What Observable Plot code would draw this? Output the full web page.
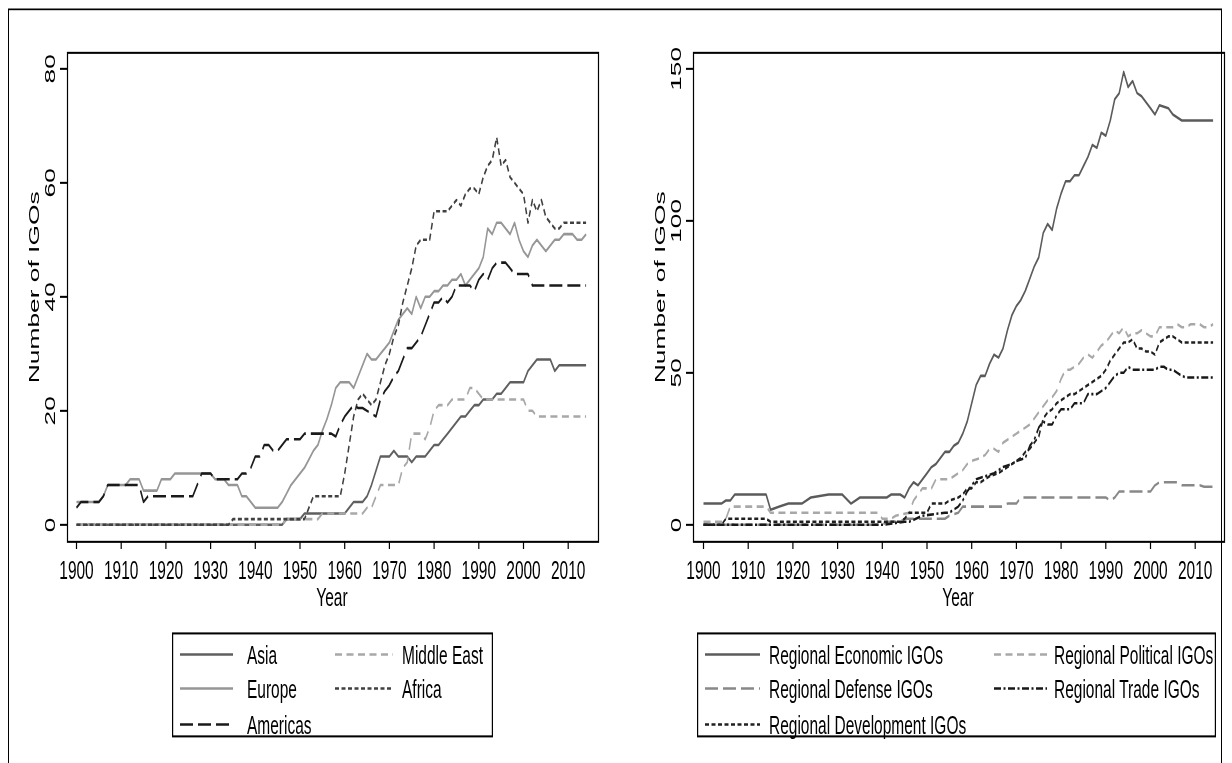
<!DOCTYPE html>
<html><head><meta charset="utf-8">
<script src="https://cdn.jsdelivr.net/npm/d3@7"></script>
<script src="https://cdn.jsdelivr.net/npm/@observablehq/plot@0.6"></script>
<style>
html,body{margin:0;padding:0;background:#fff;}
#wrap{position:relative;width:1232px;height:763px;overflow:hidden;}
#stage{position:absolute;left:0;top:0;width:1232px;transform-origin:0 0;font-family:"Liberation Sans",Arial,sans-serif;color:#000;}
.abs{position:absolute;}
.lbl{position:absolute;font-size:15.5px;white-space:nowrap;line-height:1;}
</style></head><body><div id="wrap"><div id="stage"></div></div>
<script>
// ---------------- data ----------------
const years = [1900,1910,1920,1930,1940,1950,1960,1970,1980,1990,2000,2010];
const regionTicks = [0,20,40,60,80];
const typeTicks = [0,50,100,150];

const asia = [[1900,0],[1946,0],[1947,1],[1950,1],[1951,2],[1960,2],[1962,4],[1964,4],[1965,5],[1966,7],[1967,9.5],[1968,12],[1970,12],[1971,13],[1972,12],[1974,12],[1975,11],[1976,12],[1978,12],[1979,13],[1980,14],[1981,14],[1982,15],[1983,16],[1984,17],[1985,18],[1986,19],[1987,19],[1988,20],[1989,21],[1990,21],[1991,22],[1993,22],[1994,23],[1995,23],[1996,24],[1997,25],[2000,25],[2001,27],[2002,28],[2003,29],[2006,29],[2007,27],[2008,28],[2014,28]];
const middleEast = [[1900,0],[1946,0],[1947,1],[1954,1],[1955,2],[1964,2],[1965,3],[1966,3],[1967,5],[1968,7],[1972,7],[1973,10],[1974,11],[1975,16],[1977,16],[1978,15],[1979,17],[1980,20],[1981,21],[1983,21],[1984,22],[1987,22],[1988,24],[1989,24],[1990,23],[1991,22],[2000,22],[2001,20],[2002,20],[2003,19],[2014,19]];
const europe = [[1900,4],[1905,4],[1906,5],[1907,7],[1911,7],[1912,8],[1914,8],[1915,6],[1918,6],[1919,8],[1921,8],[1922,9],[1930,9],[1931,8],[1933,8],[1934,7],[1936,7],[1937,5],[1938,5],[1939,4],[1940,3],[1945,3],[1946,4],[1947,5.5],[1948,7],[1949,8],[1950,9],[1951,10],[1952,11.5],[1953,13],[1954,14],[1955,16.5],[1956,18.5],[1957,21],[1958,24],[1959,25],[1961,25],[1962,24],[1963,26],[1964,28],[1965,30],[1966,29],[1967,29],[1968,30],[1969,31],[1970,32],[1971,34],[1972,36],[1973,37],[1974,38],[1975,37],[1976,40],[1977,38],[1978,40],[1979,40],[1980,41],[1981,41],[1982,42],[1983,42],[1984,43],[1985,43],[1986,44],[1987,42],[1988,43],[1989,44],[1990,45],[1991,47],[1992,52],[1993,51],[1994,53],[1995,53],[1996,52],[1997,51],[1998,53],[1999,50],[2000,48],[2001,47],[2002,49],[2003,50],[2004,49],[2005,48],[2006,49],[2007,50],[2008,50],[2009,51],[2011,51],[2012,50],[2013,50],[2014,51]];
const africa = [[1900,0],[1934,0],[1935,1],[1951,1],[1952,3],[1953,5],[1959,5],[1960,9],[1961,14],[1962,19],[1963,22],[1964,23],[1965,22],[1966,21],[1967,22],[1968,25],[1969,28],[1970,30],[1971,33],[1972,35],[1973,39],[1974,42],[1975,45],[1976,49],[1977,50],[1979,50],[1980,55],[1983,55],[1984,56],[1985,57],[1986,56],[1987,58],[1988,59],[1989,59],[1990,58],[1991,61],[1992,63],[1993,64],[1994,68],[1995,63],[1996,64],[1997,61],[1998,60],[1999,59],[2000,58],[2001,53],[2002,57],[2003,55],[2004,57],[2005,54],[2006,53],[2007,52],[2008,52],[2009,53],[2014,53]];
const americas = [[1900,3],[1901,4],[1905,4],[1906,5],[1907,7],[1914,7],[1915,4],[1916,5],[1926,5],[1928,9],[1930,9],[1931,8],[1936,8],[1937,9],[1938,9],[1939,10],[1940,12],[1941,12],[1942,14],[1943,14],[1944,13],[1945,13],[1946,14],[1947,15],[1950,15],[1951,16],[1957,16],[1958,15.5],[1959,17.5],[1960,19],[1961,20],[1962,21],[1963,20.5],[1964,20.5],[1965,20],[1966,19.5],[1967,19],[1968,22],[1969,23.5],[1970,24.5],[1971,26],[1972,27],[1973,29],[1974,31],[1975,31],[1976,32],[1977,33],[1978,35],[1979,37],[1980,39],[1981,39],[1982,40],[1983,39],[1984,40],[1985,42],[1986,42],[1987,42],[1988,42],[1989,41],[1990,43],[1991,44],[1992,43],[1993,45],[1994,46],[1995,46],[1996,46],[1997,45],[1998,44],[2001,44],[2002,42],[2014,42]];

const economic = [[1900,7],[1904,7],[1905,8],[1906,8],[1907,10],[1914,10],[1915,5],[1917,6],[1919,7],[1922,7],[1924,9],[1928,10],[1931,10],[1933,7],[1935,9],[1941,9],[1942,10],[1944,10],[1945,9],[1946,12],[1947,14],[1948,13],[1949,15],[1950,17],[1951,19],[1952,20],[1953,22],[1954,24],[1955,24],[1956,26],[1957,27],[1958,30],[1959,34],[1960,40],[1961,46],[1962,49],[1963,49],[1964,53],[1965,56],[1966,55],[1967,58],[1968,64],[1969,69],[1970,72],[1971,74],[1972,77],[1973,81],[1974,85],[1975,88],[1976,96],[1977,99],[1978,97],[1979,104],[1980,109],[1981,113],[1982,113],[1983,115],[1984,115],[1985,118],[1986,121],[1987,125],[1988,124],[1989,129],[1990,128],[1991,133],[1992,140],[1993,142],[1994,149],[1995,144],[1996,146],[1997,142],[1998,141],[1999,139],[2000,137],[2001,135],[2002,138],[2004,137],[2005,135],[2006,134],[2007,133],[2014,133]];
const political = [[1900,1],[1904,1],[1905,2],[1906,6],[1914,6],[1915,4],[1939,4],[1940,2],[1942,2],[1943,3],[1946,4],[1947,8],[1948,10],[1949,12],[1951,12],[1952,15],[1955,15],[1956,16],[1957,17],[1958,18],[1959,20],[1960,21],[1962,22],[1963,23],[1964,25],[1965,25],[1966,24],[1967,27],[1968,28],[1969,29],[1970,30],[1971,31],[1972,32],[1973,33],[1974,35],[1975,37],[1976,39],[1977,41],[1978,42],[1979,44],[1980,48],[1981,51],[1982,51],[1983,52],[1984,53],[1985,55],[1986,56],[1987,55],[1988,57],[1989,59],[1990,60],[1991,62],[1992,64],[1993,63],[1994,65],[1995,62],[1996,63],[1997,63],[1998,64],[1999,63],[2000,62],[2001,62],[2002,65],[2005,65],[2006,66],[2007,65],[2008,65],[2009,66],[2011,66],[2012,65],[2013,65],[2014,66]];
const defense = [[1900,0],[1940,0],[1941,1],[1944,1],[1945,2],[1954,2],[1955,3],[1957,4],[1958,6],[1967,6],[1968,7],[1970,7],[1971,9],[1990,9],[1991,8],[1992,9],[1993,11],[2000,11],[2001,13],[2002,14],[2006,14],[2007,13],[2011,13],[2012,12.5],[2014,12.5]];
const trade = [[1900,0],[1940,0],[1945,1],[1946,1],[1949,3],[1954,4],[1955,4],[1956,5],[1957,6],[1958,8],[1959,11],[1960,13],[1961,15],[1963,16],[1965,17],[1967,19],[1969,20],[1970,21],[1972,22],[1973,26],[1974,28],[1975,32],[1976,34],[1977,33],[1978,33],[1979,36],[1980,38],[1982,38],[1983,40],[1985,40],[1986,43],[1988,43],[1989,44],[1990,45],[1991,47],[1992,49],[1993,50],[1994,50],[1995,52],[1996,51],[2001,51],[2002,52],[2003,52],[2004,51],[2005,51],[2006,50],[2007,49],[2008,48.5],[2014,48.5]];
const development = [[1900,0],[1904,0],[1905,2],[1914,2],[1915,1],[1944,1],[1945,2],[1946,4],[1950,4],[1951,7],[1954,7],[1955,8],[1957,9],[1958,10],[1959,12],[1960,12],[1961,14],[1962,14],[1963,15],[1964,16],[1966,17],[1967,18],[1968,19],[1969,20],[1970,21],[1971,22],[1972,24],[1973,25],[1974,27],[1975,29],[1976,35],[1977,37],[1978,38],[1979,40],[1980,41],[1981,42],[1982,43],[1983,43],[1984,44],[1985,45],[1986,46],[1987,47],[1988,48],[1989,49],[1990,51],[1991,54],[1992,56],[1993,58],[1994,60],[1995,60],[1996,61],[1997,58],[1998,58],[1999,57],[2000,57],[2001,56],[2002,60],[2003,61],[2004,62],[2005,62],[2006,61],[2007,60],[2014,60]];

const regionNames = ["Asia","Middle East","Europe","Africa","Americas"];
const typeNames = ["Regional Economic IGOs","Regional Political IGOs","Regional Defense IGOs","Regional Trade IGOs","Regional Development IGOs"];

// ---------------- styling ----------------
const K = 1.7;               // vertical stretch of the whole figure
const Y = v => v / K;        // reference-pixel y -> design y
const FONT = '"Liberation Sans", Arial, sans-serif';
const LW = 1.5;

const regionStyles = {
  "Asia":        {stroke:"#5f5f5f", dash:null, data: asia},
  "Middle East": {stroke:"#a8a8a8", dash:"7,4.5", data: middleEast},
  "Europe":      {stroke:"#969696", dash:null, data: europe},
  "Africa":      {stroke:"#404040", dash:"4,2.5", data: africa},
  "Americas":    {stroke:"#1a1a1a", dash:"13,5", data: americas}
};
const typeStyles = {
  "Regional Economic IGOs":    {stroke:"#5b5b5b", dash:null, data: economic},
  "Regional Political IGOs":   {stroke:"#a8a8a8", dash:"7,4.5", data: political},
  "Regional Defense IGOs":     {stroke:"#888888", dash:"13,5", data: defense},
  "Regional Trade IGOs":       {stroke:"#181818", dash:"7,2.5,2,2.5", data: trade},
  "Regional Development IGOs": {stroke:"#202020", dash:"4,2.5", data: development}
};

const stage = document.getElementById("stage");
stage.style.height = (763 / K) + "px";
stage.style.transform = `scaleY(${K})`;

function rowsOf(names, styles) {
  return names.flatMap(name => styles[name].data.map(([year, value]) => ({series: name, year, value})));
}

function panel({names, styles, yDomain, yTicks, xDomain, pageLeft, frameLeft, frameRight}) {
  const width = 616;
  const H = Y(600);
  const rows = rowsOf(names, styles);
  const marks = [];
  for (const name of names) {
    const s = styles[name];
    marks.push(Plot.line(rows.filter(r => r.series === name), {
      x: "year", y: "value", stroke: s.stroke, strokeWidth: LW,
      strokeDasharray: s.dash || undefined, strokeLinecap: "butt", strokeLinejoin: "round"
    }));
  }
  marks.push(Plot.frame({stroke: "#000", strokeWidth: 1.2}));
  marks.push(Plot.axisX({ticks: years, tickFormat: "d", tickSize: Y(8), tickPadding: 6, label: null, stroke: "#000", strokeWidth: 1.2}));
  marks.push(Plot.axisY({ticks: yTicks, tickFormat: "d", tickSize: 7, tickPadding: 6, tickRotate: -90, textAnchor: "middle", lineAnchor: "bottom", label: null, stroke: "#000", strokeWidth: 1.2}));
  const svg = Plot.plot({
    width, height: H,
    marginTop: Y(52), marginBottom: H - Y(541),
    marginLeft: frameLeft - pageLeft, marginRight: pageLeft + width - frameRight,
    x: {domain: xDomain}, y: {domain: yDomain},
    style: {fontSize: "15.5px", fontFamily: FONT, color: "#000", background: "transparent", overflow: "visible"},
    marks
  });
  svg.style.position = "absolute";
  svg.style.left = pageLeft + "px";
  svg.style.top = "0px";
  stage.appendChild(svg);
}

// left panel: 1900 at x=76, 4.47 px/yr; 0 at y=524, 5.7 px/unit
panel({names: regionNames, styles: regionStyles, yTicks: regionTicks,
  xDomain: [1900 - 9/4.47, 1900 + 522/4.47], yDomain: [(524-541)/5.7, (524-52)/5.7],
  pageLeft: 0, frameLeft: 67, frameRight: 598});
// right panel: 1900 at x=703, 4.47 px/yr; 0 at y=524, 3.04 px/unit
panel({names: typeNames, styles: typeStyles, yTicks: typeTicks,
  xDomain: [1900 - 10/4.47, 1900 + 521/4.47], yDomain: [(524-541)/3.04, (524-52)/3.04],
  pageLeft: 616, frameLeft: 693, frameRight: 1224});

// outer border
const border = document.createElement("div");
border.className = "abs";
Object.assign(border.style, {left: "8px", top: Y(8) + "px", width: "1214px", height: Y(800) + "px", border: "1.3px solid #000", boxSizing: "border-box"});
stage.appendChild(border);

function label(text, x, y, rotate) {
  const d = document.createElement("div");
  d.className = "lbl";
  d.textContent = text;
  d.style.left = x + "px";
  d.style.top = Y(y) + "px";
  d.style.transform = rotate ? "translate(-50%,-50%) rotate(-90deg)" : "translate(-50%,-50%)";
  stage.appendChild(d);
}
label("Year", 332, 597);
label("Year", 958, 597);
label("Number of IGOs", 34, 288, true);
label("Number of IGOs", 660, 288, true);

function legend({names, styles, box, cols}) {
  const [x0, y0, x1, y1] = box;
  const svg = d3.create("svg")
    .attr("width", x1 - x0).attr("height", Y(y1 - y0))
    .style("position", "absolute").style("left", x0 + "px").style("top", Y(y0) + "px")
    .style("overflow", "visible");
  svg.append("rect").attr("x", 0.6).attr("y", 0.6).attr("width", x1 - x0 - 1.2).attr("height", Y(y1 - y0) - 1.2)
    .attr("fill", "none").attr("stroke", "#000").attr("stroke-width", 1.2);
  const rowsY = [655, 689, 725];
  names.forEach((name, i) => {
    const c = cols[i % 2], ry = Y(rowsY[Math.floor(i / 2)] - y0);
    const s = styles[name];
    svg.append("line").attr("x1", c[0] - x0).attr("x2", c[1] - x0).attr("y1", ry).attr("y2", ry)
      .attr("stroke", s.stroke).attr("stroke-width", LW).attr("stroke-dasharray", s.dash);
    svg.append("text").attr("x", c[2] - x0).attr("y", ry).attr("dy", "0.35em")
      .attr("font-family", FONT).attr("font-size", 15.5).attr("fill", "#000").text(name);
  });
  stage.appendChild(svg.node());
}
legend({names: regionNames, styles: regionStyles, box: [172, 633, 493, 738],
  cols: [[180, 233, 247], [335, 393, 402]]});
legend({names: typeNames, styles: typeStyles, box: [697, 633, 1216, 738],
  cols: [[705, 760, 769], [994, 1047, 1054]]});
</script></body></html>
